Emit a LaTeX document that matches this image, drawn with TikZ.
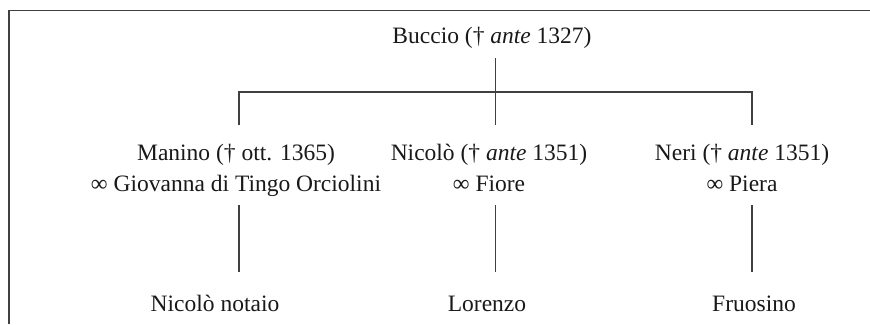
\documentclass[tikz,border=0pt]{standalone}
\usepackage{fontspec}
\setmainfont{Liberation Serif}
\begin{document}
\begin{tikzpicture}[x=1pt,y=-1pt,
  frame/.style={draw=black!75,line width=1.3pt},
  link/.style={draw=black!75,line width=1.3pt},
  person/.style={inner sep=0pt,anchor=base,align=center,text=black!90,
    font=\fontsize{23.5}{31}\selectfont}]
\useasboundingbox (0,0) rectangle (870,324);
\draw[frame] (870,10.5) -- (9,10.5) -- (9,324);
% people
\node[person] (buccio) at (492,43) {Buccio († \textit{ante} 1327)};
\node[person] (manino) at (236,191) {Manino († ott. 1365)\\∞ Giovanna di Tingo Orciolini};
\node[person] (nicolo) at (489,191) {Nicolò († \textit{ante} 1351)\\∞ Fiore};
\node[person] (neri) at (742,191) {Neri († \textit{ante} 1351)\\∞ Piera};
\node[person] (notaio) at (215,311) {Nicolò notaio};
\node[person] (lorenzo) at (487,311) {Lorenzo};
\node[person] (fruosino) at (754,311) {Fruosino};
% junction points
\coordinate (btop) at (495.5,58);
\coordinate (bl) at (239,92);
\coordinate (bm) at (495.5,92);
\coordinate (br) at (752,92);
\coordinate (ml) at (239,125);
\coordinate (mm) at (495.5,125);
\coordinate (mr) at (752,125);
\coordinate (cl1) at (239,205);
\coordinate (cm1) at (495.5,205);
\coordinate (cr1) at (752,205);
\coordinate (cl2) at (239,272);
\coordinate (cm2) at (495.5,272);
\coordinate (cr2) at (752,272);
% connectors
\draw[link] (btop) -- (bm) -- (mm);
\draw[link] (ml) -- (bl) -- (br) -- (mr);
\draw[link] (cl1) -- (cl2);
\draw[link] (cm1) -- (cm2);
\draw[link] (cr1) -- (cr2);
\end{tikzpicture}
\end{document}
